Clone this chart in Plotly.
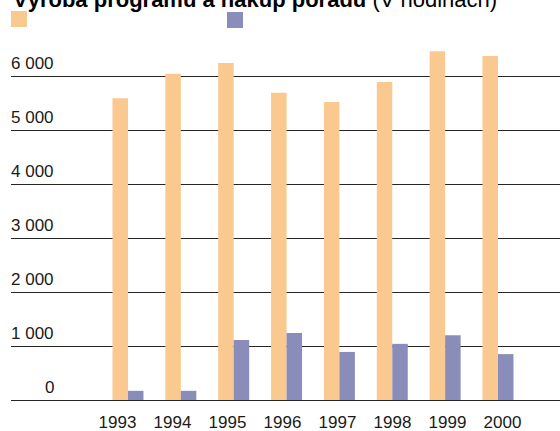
import plotly.graph_objects as go

# Annual hours: in-house production vs. purchased programmes
years = ["1993", "1994", "1995", "1996", "1997", "1998", "1999", "2000"]
production_hours = [5590, 6040, 6240, 5690, 5520, 5890, 6460, 6370]
purchase_hours = [170, 170, 1110, 1240, 890, 1040, 1200, 850]
y_ticks = [0, 1000, 2000, 3000, 4000, 5000, 6000]
y_tick_labels = [f"{v:,}".replace(",", " ") for v in y_ticks]

ORANGE = "#F9C98F"
BLUE = "#8A8DBA"
TEXT = "#1a1a1a"
GRID = "#262626"
FONT = "Liberation Sans, Arial, sans-serif"

W, H = 560, 431
M_L, M_R, M_T, M_B = 11, 0, 40, 31
plot_w = W - M_L - M_R
plot_h = H - M_T - M_B
y_max = 6666.7

fig = go.Figure()
fig.add_trace(go.Bar(x=years, y=production_hours, name="Výroba programů",
                     marker=dict(color=ORANGE, line=dict(width=0))))
fig.add_trace(go.Bar(x=years, y=purchase_hours, name="Nákup pořadů",
                     marker=dict(color=BLUE, line=dict(width=0))))
# carrier for the year-label axis
fig.add_trace(go.Scatter(x=list(range(len(years))), y=[0] * len(years), xaxis="x2",
                         mode="markers", marker=dict(opacity=0), showlegend=False,
                         hoverinfo="skip"))

annotations = []
for v, lab in zip(y_ticks, y_tick_labels):
    annotations.append(dict(
        x=(56 - M_L) / plot_w, xref="paper", xanchor="right",
        y=v, yref="y", yanchor="middle", yshift=13,
        text=lab, showarrow=False, font=dict(family=FONT, size=17, color=TEXT)))

annotations.append(dict(
    x=0, xref="paper", xanchor="left", y=1, yref="paper", yanchor="middle", yshift=41,
    text="<b>Výroba programů a nákup pořadů</b> (V hodinách)", showarrow=False,
    font=dict(family=FONT, size=22, color="#000000")))

def px_box(x0, y0, x1, y1, color):
    return dict(type="rect", xref="paper", yref="paper",
                x0=(x0 - M_L) / plot_w, x1=(x1 - M_L) / plot_w,
                y0=(H - M_B - y1) / plot_h, y1=(H - M_B - y0) / plot_h,
                fillcolor=color, line=dict(width=0))

shapes = [px_box(11, 11, 27, 27, ORANGE), px_box(227, 12, 243, 28, BLUE)]

fig.update_layout(
    width=W, height=H,
    margin=dict(l=M_L, r=M_R, t=M_T, b=M_B, pad=0, autoexpand=False),
    paper_bgcolor="white", plot_bgcolor="white",
    barmode="group", bargap=0.414, bargroupgap=0,
    showlegend=False,
    font=dict(family=FONT, size=16, color=TEXT),
    xaxis=dict(type="category", range=[-2.213, 8.173], showticklabels=False,
               showgrid=False, zeroline=False, showline=False, ticks="",
               automargin=False),
    xaxis2=dict(overlaying="x", side="bottom", type="linear", range=[-1.936, 8.046],
                tickvals=list(range(len(years))), ticktext=years,
                tickfont=dict(family=FONT, size=17, color=TEXT),
                showgrid=False, zeroline=False, showline=False, ticks="",
                ticklabelstandoff=10, automargin=False),
    yaxis=dict(range=[0, y_max], tickvals=y_ticks, showticklabels=False,
               showgrid=True, gridcolor=GRID, gridwidth=1.2,
               zeroline=True, zerolinecolor=GRID, zerolinewidth=1.2,
               showline=False, ticks="", automargin=False),
    annotations=annotations,
    shapes=shapes,
)

fig.write_html("out.html")
